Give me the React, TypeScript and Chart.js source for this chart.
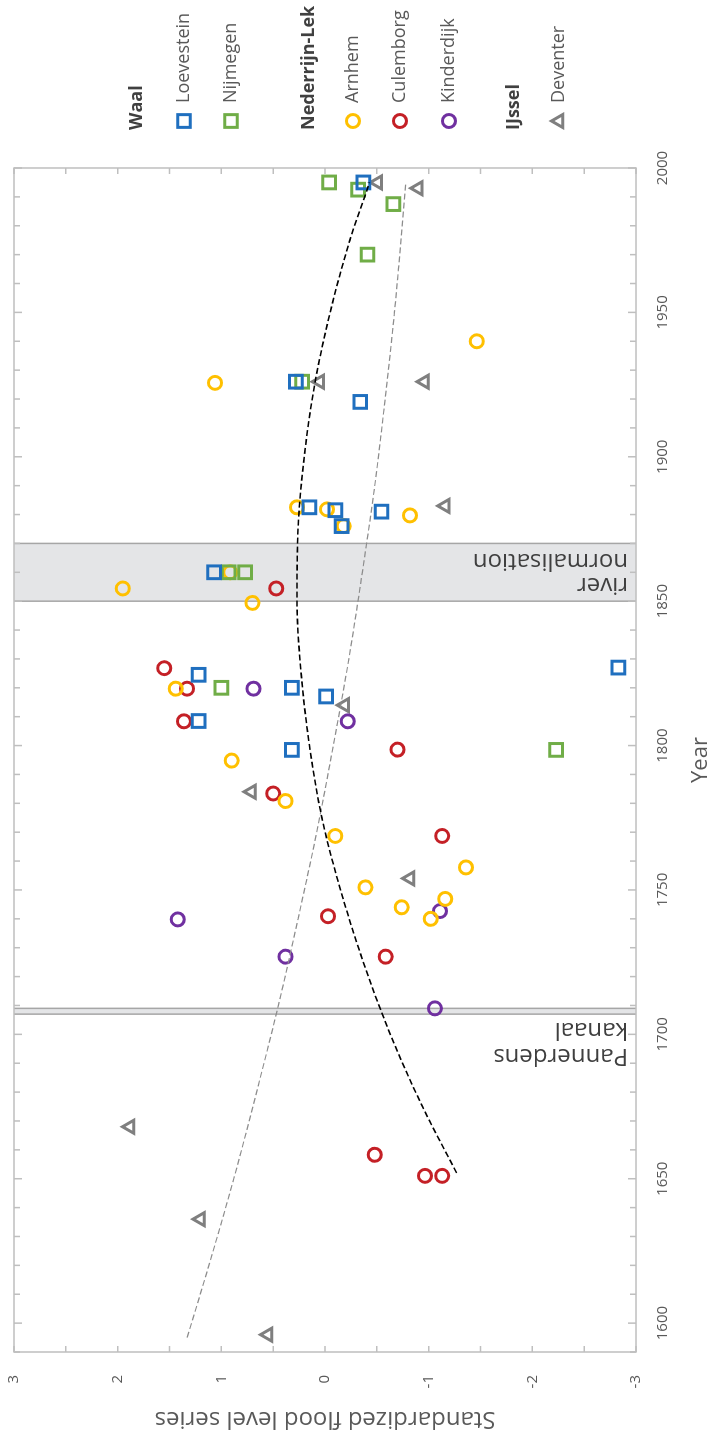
import React, { useEffect, useRef } from 'react';
import { Chart, registerables } from 'chart.js';

Chart.register(...registerables);

// ---------- data ----------
const groupNames = ['Waal', 'Nederrijn-Lek', 'IJssel'];
const seriesNames = ['Loevestein', 'Nijmegen', 'Arnhem', 'Culemborg', 'Kinderdijk', 'Deventer'];

const loevesteinYears = [1995, 1926, 1919, 1882.5, 1881.5, 1881, 1876, 1860, 1827, 1824.5, 1820, 1817, 1808.5, 1798.5];
const loevesteinValues = [-0.37, 0.28, -0.34, 0.15, -0.1, -0.545, -0.16, 1.07, -2.83, 1.22, 0.32, -0.01, 1.22, 0.32];

const nijmegenYears = [1995, 1992.5, 1987.5, 1970, 1926, 1860, 1860, 1820, 1798.5];
const nijmegenValues = [-0.04, -0.32, -0.66, -0.41, 0.22, 0.93, 0.77, 1.0, -2.23];

const arnhemYears = [1940, 1925.6, 1882.5, 1881.8, 1879.7, 1876, 1860, 1854.4, 1849.4, 1819.7, 1794.8, 1780.8, 1768.7, 1757.8, 1750.9, 1746.9, 1744, 1740];
const arnhemValues = [-1.465, 1.06, 0.27, -0.02, -0.82, -0.18, 0.915, 1.95, 0.7, 1.44, 0.9, 0.38, -0.1, -1.36, -0.39, -1.16, -0.74, -1.02];

const culemborgYears = [1854.4, 1826.8, 1819.7, 1808.4, 1798.6, 1783.4, 1768.7, 1740.9, 1726.9, 1658.3, 1651, 1651];
const culemborgValues = [0.47, 1.55, 1.33, 1.36, -0.7, 0.5, -1.13, -0.03, -0.585, -0.48, -0.965, -1.13];

const kinderdijkYears = [1819.7, 1808.4, 1742.7, 1739.8, 1726.9, 1709];
const kinderdijkValues = [0.69, -0.22, -1.11, 1.42, 0.38, -1.06];

const deventerYears = [1995, 1993, 1926, 1926, 1883, 1814, 1784, 1754, 1668, 1636, 1596];
const deventerValues = [-0.51, -0.9, 0.05, -0.96, -1.16, -0.19, 0.71, -0.82, 1.88, 1.2, 0.55];

const blackTrendYears = [1652, 1675, 1700, 1725, 1750, 1775, 1800, 1825, 1850, 1875, 1900, 1925, 1950, 1975, 1995];
const blackTrendValues = [-1.27, -0.94, -0.63, -0.37, -0.15, 0.03, 0.15, 0.23, 0.27, 0.26, 0.2, 0.1, -0.05, -0.24, -0.43];

const grayTrendYears = [1595, 1620, 1650, 1680, 1710, 1740, 1770, 1800, 1830, 1860, 1890, 1920, 1950, 1995];
const grayTrendValues = [1.33, 1.12, 0.88, 0.66, 0.45, 0.26, 0.08, -0.08, -0.23, -0.36, -0.48, -0.58, -0.67, -0.78];

const yearTickLabels = [1600, 1650, 1700, 1750, 1800, 1850, 1900, 1950, 2000];
const valueTickLabels = [-3, -2, -1, 0, 1, 2, 3];

const eventNames = ['river normalisation', 'Pannerdens kanaal'];
const eventStarts = [1850, 1707];
const eventEnds = [1870, 1709];

// ---------- styles ----------
const FONT = '"Open Sans", "Noto Sans", sans-serif';
const W = 1437;
const H = 711;
const BLUE = '#1f6fbf';
const GREEN = '#70ad47';
const YELLOW = '#ffc000';
const RED = '#c42026';
const PURPLE = '#7030a0';
const GRAY = '#7f7f7f';
const TEXT = '#595959';

const pts = (xs: number[], ys: number[]) => xs.map((x, i) => ({ x, y: ys[i] }));

function drawShape(ctx: CanvasRenderingContext2D, shape: string, x: number, y: number, color: string) {
  ctx.save();
  ctx.strokeStyle = color;
  ctx.lineWidth = 3;
  ctx.beginPath();
  if (shape === 'rect') {
    const s = Math.SQRT1_2 * 9;
    ctx.rect(x - s, y - s, 2 * s, 2 * s);
  } else if (shape === 'circle') {
    ctx.arc(x, y, 6.5, 0, Math.PI * 2);
  } else {
    const r = 7.5;
    let rad = 0;
    ctx.moveTo(x + Math.sin(rad) * r, y - Math.cos(rad) * r);
    rad += (2 * Math.PI) / 3;
    ctx.lineTo(x + Math.sin(rad) * r, y - Math.cos(rad) * r);
    rad += (2 * Math.PI) / 3;
    ctx.lineTo(x + Math.sin(rad) * r, y - Math.cos(rad) * r);
    ctx.closePath();
  }
  ctx.stroke();
  ctx.restore();
}

const legendRows = [
  { kind: 'header', label: groupNames[0], v: 137 },
  { kind: 'item', label: seriesNames[0], v: 184, shape: 'rect', color: BLUE },
  { kind: 'item', label: seriesNames[1], v: 231, shape: 'rect', color: GREEN },
  { kind: 'header', label: groupNames[1], v: 309 },
  { kind: 'item', label: seriesNames[2], v: 353, shape: 'circle', color: YELLOW },
  { kind: 'item', label: seriesNames[3], v: 400, shape: 'circle', color: RED },
  { kind: 'item', label: seriesNames[4], v: 449, shape: 'circle', color: PURPLE },
  { kind: 'header', label: groupNames[2], v: 514 },
  { kind: 'item', label: seriesNames[5], v: 559, shape: 'triangle', color: GRAY },
];

const eventLabelLines = [
  ['river', 'normalisation'],
  ['Pannerdens', 'kanaal'],
];
const eventLabelYears = [
  [1855.5, 1864],
  [1692.4, 1701.4],
];

const decorPlugin = {
  id: 'decor',
  beforeDatasetsDraw(chart: any) {
    const { ctx, chartArea: a, scales } = chart;
    const x = scales.x;
    const y = scales.y;
    ctx.save();
    // bands
    for (let i = 0; i < eventStarts.length; i++) {
      const x1 = x.getPixelForValue(eventStarts[i]);
      const x2 = x.getPixelForValue(eventEnds[i]);
      ctx.fillStyle = '#e4e5e7';
      ctx.fillRect(x1, a.top, x2 - x1, a.bottom - a.top);
      ctx.strokeStyle = '#a6a6a6';
      ctx.lineWidth = 1.5;
      ctx.beginPath();
      ctx.moveTo(x1, a.top);
      ctx.lineTo(x1, a.bottom);
      ctx.moveTo(x2, a.top);
      ctx.lineTo(x2, a.bottom);
      ctx.stroke();
    }
    // band labels
    ctx.fillStyle = '#3f3f3f';
    ctx.font = `24px ${FONT}`;
    ctx.textBaseline = 'middle';
    ctx.textAlign = 'left';
    for (let i = 0; i < eventLabelLines.length; i++) {
      for (let j = 0; j < eventLabelLines[i].length; j++) {
        ctx.save();
        ctx.translate(x.getPixelForValue(eventLabelYears[i][j]), a.bottom - 8);
        ctx.rotate(-Math.PI / 2);
        ctx.fillText(eventLabelLines[i][j], 0, 0);
        ctx.restore();
      }
    }
    // frame
    ctx.strokeStyle = '#bfbfbf';
    ctx.lineWidth = 1.5;
    ctx.strokeRect(a.left, a.top, a.right - a.left, a.bottom - a.top);
    // inner tick marks
    ctx.beginPath();
    for (let yr = 1590; yr <= 2000; yr += 10) {
      const px = x.getPixelForValue(yr);
      const len = yr % 50 === 0 ? 8 : 6;
      ctx.moveTo(px, a.bottom);
      ctx.lineTo(px, a.bottom - len);
      ctx.moveTo(px, a.top);
      ctx.lineTo(px, a.top + len);
    }
    for (let v = -3; v <= 3; v += 0.5) {
      const py = y.getPixelForValue(v);
      ctx.moveTo(a.left, py);
      ctx.lineTo(a.left + 6, py);
      ctx.moveTo(a.right, py);
      ctx.lineTo(a.right - 6, py);
    }
    ctx.stroke();
    ctx.restore();
  },
  afterDraw(chart: any) {
    const ctx = chart.ctx;
    ctx.save();
    ctx.textBaseline = 'middle';
    ctx.textAlign = 'left';
    for (const r of legendRows) {
      if (r.kind === 'header') {
        ctx.font = `bold 18px ${FONT}`;
        ctx.fillStyle = '#404040';
        ctx.fillText(r.label, 1307, r.v);
      } else {
        drawShape(ctx, (r as any).shape, 1316, r.v, (r as any).color);
        ctx.font = `18px ${FONT}`;
        ctx.fillStyle = TEXT;
        ctx.fillText(r.label, 1334, r.v);
      }
    }
    ctx.restore();
  },
};

export default function App() {
  const ref = useRef<HTMLCanvasElement | null>(null);

  useEffect(() => {
    if (!ref.current) return;
    const marker = (label: string, xs: number[], ys: number[], color: string, style: string, radius: number) => ({
      type: 'scatter' as const,
      label,
      data: pts(xs, ys),
      pointStyle: style,
      pointRadius: radius,
      pointBorderWidth: 3,
      pointBorderColor: color,
      pointBackgroundColor: 'rgba(0,0,0,0)',
      borderColor: color,
      backgroundColor: 'rgba(0,0,0,0)',
      showLine: false,
    });
    const chart = new Chart(ref.current, {
      type: 'scatter',
      data: {
        datasets: [
          {
            type: 'line',
            label: 'trend (polynomial)',
            data: pts(blackTrendYears, blackTrendValues),
            borderColor: '#000000',
            borderWidth: 1.6,
            borderDash: [6, 3],
            pointRadius: 0,
            fill: false,
            cubicInterpolationMode: 'monotone',
          } as any,
          {
            type: 'line',
            label: 'trend (Deventer)',
            data: pts(grayTrendYears, grayTrendValues),
            borderColor: '#8c8c8c',
            borderWidth: 1.2,
            borderDash: [6, 3],
            pointRadius: 0,
            fill: false,
            cubicInterpolationMode: 'monotone',
          } as any,
          marker(seriesNames[0], loevesteinYears, loevesteinValues, BLUE, 'rect', 9),
          marker(seriesNames[1], nijmegenYears, nijmegenValues, GREEN, 'rect', 9),
          marker(seriesNames[2], arnhemYears, arnhemValues, YELLOW, 'circle', 6.5),
          marker(seriesNames[3], culemborgYears, culemborgValues, RED, 'circle', 6.5),
          marker(seriesNames[4], kinderdijkYears, kinderdijkValues, PURPLE, 'circle', 6.5),
          marker(seriesNames[5], deventerYears, deventerValues, GRAY, 'triangle', 7.5),
        ],
      },
      options: {
        responsive: false,
        animation: false,
        devicePixelRatio: 1,
        layout: { padding: { left: 0, right: 168, top: 14, bottom: 0 } },
        plugins: { legend: { display: false }, tooltip: { enabled: false } },
        scales: {
          x: {
            type: 'linear',
            position: 'bottom',
            min: 1590,
            max: 2000,
            afterBuildTicks: (s: any) => {
              s.ticks = yearTickLabels.map((v) => ({ value: v }));
            },
            afterFit: (s: any) => {
              s.height = 75;
              s.paddingLeft = 0;
              s.paddingRight = 0;
            },
            grid: { display: false, drawTicks: false, tickLength: 0 },
            border: { display: false },
            ticks: {
              font: { family: FONT, size: 15 },
              color: TEXT,
              padding: 18,
              maxRotation: 0,
              minRotation: 0,
              autoSkip: false,
              callback: (v: any) => String(v),
            },
            title: {
              display: true,
              text: 'Year',
              color: TEXT,
              font: { family: FONT, size: 22, lineHeight: 0.9 },
              padding: { top: 0, bottom: 0 },
            },
          },
          y: {
            type: 'linear',
            min: -3,
            max: 3,
            afterBuildTicks: (s: any) => {
              s.ticks = valueTickLabels.map((v) => ({ value: v }));
            },
            afterFit: (s: any) => {
              s.width = 85;
              s.paddingTop = 0;
              s.paddingBottom = 0;
            },
            grid: { display: false, drawTicks: false, tickLength: 0 },
            border: { display: false },
            ticks: {
              font: { family: FONT, size: 15 },
              color: TEXT,
              padding: 23,
              autoSkip: false,
              callback: (v: any) => String(v),
            },
            title: {
              display: true,
              text: 'Standardized flood level series',
              color: TEXT,
              font: { family: FONT, size: 24, lineHeight: 1 },
              padding: { top: 6, bottom: 0 },
            },
          },
        },
      } as any,
      plugins: [decorPlugin],
    });
    return () => chart.destroy();
  }, []);

  return (
    <div style={{ position: 'absolute', left: 0, top: 0, width: 711, height: 1437, overflow: 'hidden', background: '#ffffff' }}>
      <div
        style={{
          position: 'absolute',
          left: 0,
          top: 0,
          width: W,
          height: H,
          transformOrigin: '0 0',
          transform: `translate(0px, ${W}px) rotate(-90deg)`,
        }}
      >
        <canvas ref={ref} width={W} height={H} style={{ display: 'block', width: W, height: H }} />
      </div>
    </div>
  );
}
